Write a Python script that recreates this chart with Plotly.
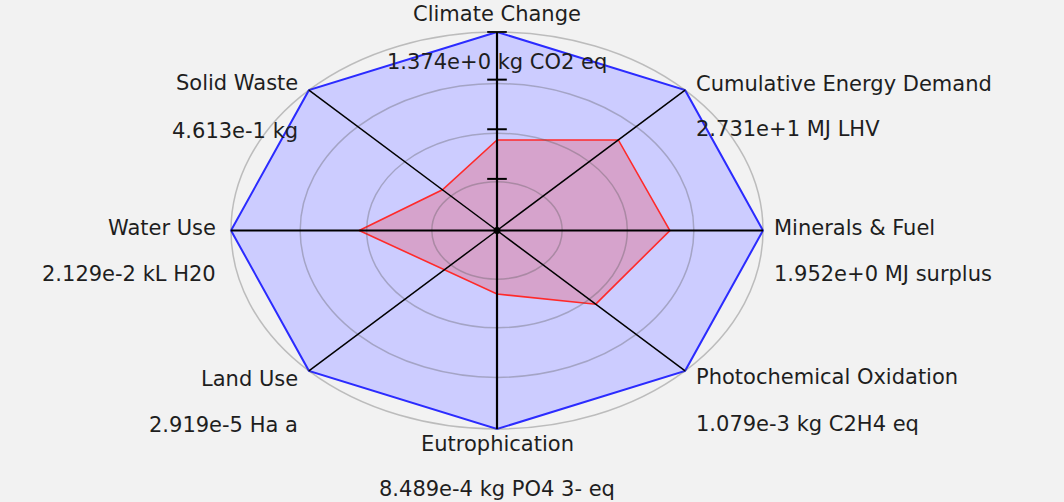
import numpy as np
import plotly.graph_objects as go

# ---------------- data ----------------
categories = [
    "Climate Change",
    "Cumulative Energy Demand",
    "Minerals & Fuel",
    "Photochemical Oxidation",
    "Eutrophication",
    "Land Use",
    "Water Use",
    "Solid Waste",
]
unit_labels = [
    "1.374e+0 kg CO2 eq",
    "2.731e+1 MJ LHV",
    "1.952e+0 MJ surplus",
    "1.079e-3 kg C2H4 eq",
    "8.489e-4 kg PO4 3- eq",
    "2.919e-5 Ha a",
    "2.129e-2 kL H20",
    "4.613e-1 kg",
]
axis_angles = [90, 45, 0, -45, -90, -135, 180, 135]
reference_values = [1.0, 1.0, 1.0, 1.0, 1.0, 1.0, 1.0, 1.0]
scenario_values = [0.456, 0.645, 0.65, 0.525, 0.32, 0.28, 0.518, 0.29]
ring_levels = [0.245, 0.49, 0.74, 1.0]
tick_levels = [0.26, 0.51, 0.76, 1.0]

# ---------------- styling / layout config ----------------
BG = "#f2f2f2"
FONT = "DejaVu Sans"
FS = 21
TXT = "#1e1e1e"
# (xanchor, name xshift, name yshift, value yshift) per axis direction
label_rules = {
    90: ("center", 0, 18, -30),
    45: ("left", 9, 6, -39),
    0: ("left", 9, 3, -43),
    -45: ("left", 9, -6, -53),
    -90: ("center", 0, -15, -60),
    -135: ("right", -9, -8, -54),
    180: ("right", -13, 3, -43),
    135: ("right", -9, 7, -41),
}

theta = np.radians(axis_angles)


def polygon(vals):
    r = np.asarray(vals, dtype=float)
    x = r * np.cos(theta)
    y = r * np.sin(theta)
    return np.append(x, x[0]), np.append(y, y[0])


fig = go.Figure()

bx, by = polygon(reference_values)
fig.add_trace(go.Scatter(x=bx, y=by, mode="lines", fill="toself",
                         fillcolor="#ccccff",
                         line=dict(color="#2b2bff", width=2),
                         hoverinfo="skip", showlegend=False))

rx, ry = polygon(scenario_values)
fig.add_trace(go.Scatter(x=rx, y=ry, mode="lines", fill="toself",
                         fillcolor="rgba(255,0,0,0.2)",
                         line=dict(color="#ff2a2a", width=1.6),
                         hoverinfo="skip", showlegend=False))

shapes = []
for lv in ring_levels:
    shapes.append(dict(type="circle", xref="x", yref="y",
                       x0=-lv, x1=lv, y0=-lv, y1=lv, layer="above",
                       line=dict(color="rgba(90,90,90,0.35)", width=1.5)))
for a in axis_angles:
    t = np.radians(a)
    w = 2.2 if a in (90, -90, 0, 180) else 1.5
    shapes.append(dict(type="line", xref="x", yref="y",
                       x0=0, y0=0, x1=float(np.cos(t)), y1=float(np.sin(t)),
                       layer="above", line=dict(color="#000000", width=w)))
fig.update_layout(shapes=shapes)

# tick marks on vertical axis + centre dot
fig.add_trace(go.Scatter(x=[0] * len(tick_levels), y=tick_levels,
                         mode="markers",
                         marker=dict(symbol="line-ew", size=14,
                                     line=dict(color="#000", width=2)),
                         hoverinfo="skip", showlegend=False))
fig.add_trace(go.Scatter(x=[0], y=[0], mode="markers",
                         marker=dict(color="#000", size=7),
                         hoverinfo="skip", showlegend=False))

annotations = []
for name, unit, a in zip(categories, unit_labels, axis_angles):
    t = np.radians(a)
    vx, vy = float(np.cos(t)), float(np.sin(t))
    xa, xs, ys_name, ys_val = label_rules[a]
    for txt, ys in ((name, ys_name), (unit, ys_val)):
        annotations.append(dict(x=vx, y=vy, xref="x", yref="y", text=txt,
                                showarrow=False, xanchor=xa, yanchor="middle",
                                xshift=xs, yshift=ys,
                                font=dict(family=FONT, size=FS, color=TXT)))
fig.update_layout(annotations=annotations)

W, H = 1064, 502
cx, cy = 497, 230.5
sx, sy = 266, 198.5
fig.update_layout(
    width=W, height=H,
    margin=dict(l=0, r=0, t=0, b=0),
    paper_bgcolor=BG, plot_bgcolor=BG,
    xaxis=dict(range=[-cx / sx, (W - cx) / sx], visible=False, fixedrange=True),
    yaxis=dict(range=[-(H - cy) / sy, cy / sy], visible=False, fixedrange=True),
    showlegend=False,
)

fig.write_html("out.html", config={"displayModeBar": False},
               post_script="document.body.style.margin='0';"
                           "document.body.style.overflow='hidden';"
                           "document.body.style.background='#f2f2f2';")
